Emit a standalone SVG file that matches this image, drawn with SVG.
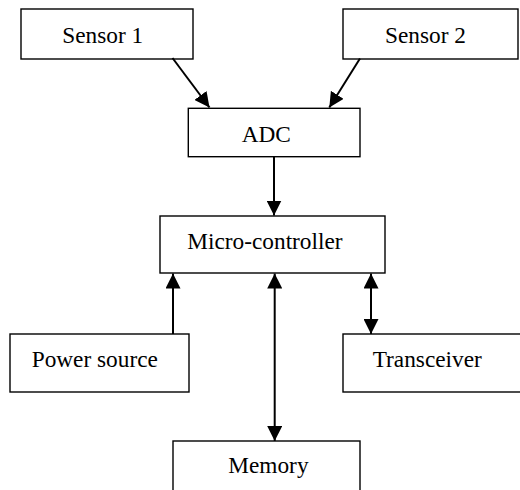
<svg xmlns="http://www.w3.org/2000/svg" width="520" height="490" viewBox="0 0 520 490">
<style>
.box{fill:#fff;stroke:#000;stroke-width:1.4}
.lbl{font-family:"Liberation Serif","Times New Roman",serif;font-size:23.3px;fill:#000}
.con{stroke:#000;stroke-width:2;fill:none}
</style>
<defs>
<marker id="ah" viewBox="0 0 15 15" refX="15" refY="7.5" markerWidth="15" markerHeight="15" markerUnits="userSpaceOnUse" orient="auto-start-reverse">
<path d="M0,0 L15,7.5 L0,15 Z" fill="#000"/>
</marker>
</defs>
<rect width="520" height="490" fill="#fff"/>
<g id="sensor1"><rect class="box" x="21" y="9" width="172" height="50"/><text class="lbl" x="62.3" y="42.7">Sensor 1</text></g>
<g id="sensor2"><rect class="box" x="343" y="9" width="175" height="50"/><text class="lbl" x="385" y="42.5">Sensor 2</text></g>
<g id="adc"><rect class="box" x="188.3" y="108.3" width="171.7" height="48.4"/><text class="lbl" x="241.7" y="141.7">ADC</text></g>
<g id="mcu"><rect class="box" x="160" y="216" width="225" height="57"/><text class="lbl" x="187.3" y="249.3">Micro-controller</text></g>
<g id="power"><rect class="box" x="10" y="334" width="179" height="58"/><text class="lbl" x="31.7" y="366.7">Power source</text></g>
<g id="transceiver"><rect class="box" x="343" y="334" width="200" height="58"/><text class="lbl" x="372.7" y="366.7">Transceiver</text></g>
<g id="memory"><rect class="box" x="173" y="441" width="187" height="60"/><text class="lbl" x="228.3" y="473.3">Memory</text></g>
<g id="connectors">
<line class="con" x1="172.5" y1="58" x2="209.5" y2="107.5" marker-end="url(#ah)"/>
<line class="con" x1="360" y1="58.5" x2="329.3" y2="107.5" marker-end="url(#ah)"/>
<line class="con" x1="274" y1="156.7" x2="274" y2="215.5" marker-end="url(#ah)"/>
<line class="con" x1="173" y1="334" x2="173" y2="273.5" marker-end="url(#ah)"/>
<line class="con" x1="274.7" y1="273.5" x2="274.7" y2="441" marker-start="url(#ah)" marker-end="url(#ah)"/>
<line class="con" x1="371" y1="273.5" x2="371" y2="334" marker-start="url(#ah)" marker-end="url(#ah)"/>
</g>
</svg>
